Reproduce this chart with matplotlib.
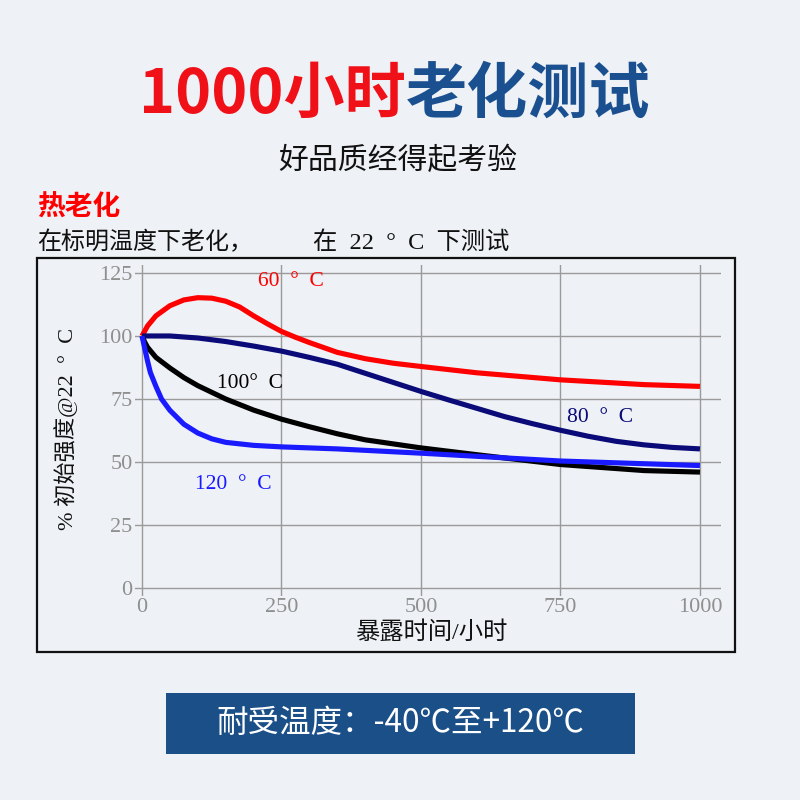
import matplotlib
matplotlib.use("Agg")
import matplotlib.pyplot as plt
from matplotlib.patches import Rectangle

# exposure hours vs % of initial strength
hours_60 = [0, 10, 25, 50, 75, 100, 125, 150, 175, 200, 225, 250, 275, 300, 350, 400, 450, 500, 600, 750, 900, 1000]
strength_60 = [100, 104, 108, 112, 114.3, 115.2, 115, 113.8, 111.5, 108, 104.8, 101.8, 99.5, 97.4, 93.5, 91, 89.2, 87.9, 85.4, 82.6, 80.7, 80]

hours_80 = [0, 50, 100, 150, 200, 250, 300, 350, 400, 450, 500, 550, 600, 650, 700, 750, 800, 850, 900, 950, 1000]
strength_80 = [100, 100, 99.2, 97.8, 96, 94, 91.5, 88.8, 85.2, 81.6, 78, 74.6, 71.3, 68, 65.2, 62.6, 60.2, 58.2, 56.8, 55.8, 55.2]

hours_100 = [0, 5, 10, 25, 50, 75, 100, 150, 200, 250, 300, 350, 400, 500, 600, 750, 900, 1000]
strength_100 = [100, 97.5, 95.5, 91.5, 87.3, 83.5, 80.3, 75, 70.6, 67, 64, 61.2, 58.8, 55.6, 52.9, 49, 46.6, 46]

hours_120 = [0, 5, 10, 15, 25, 35, 50, 75, 100, 125, 150, 200, 250, 350, 500, 750, 1000]
strength_120 = [100, 95, 90, 85.5, 80, 75, 70.5, 65, 61.5, 59.2, 57.8, 56.6, 56, 55.2, 53.5, 50.4, 48.6]

series_labels = ["60  °  C", "80  °  C", "100°  C", "120  °  C"]
label_pos = [(267, 121.5), (821, 67.5), (194, 81), (163, 41)]
series_colors = ["#ff0000", "#0a0a78", "#000000", "#1a1aff"]

xticks = [0, 250, 500, 750, 1000]
yticks = [0, 25, 50, 75, 100, 125]

BG = "#eef1f5"
CJK = "Noto Sans CJK SC"
SERIF = ["Liberation Serif", CJK]

plt.rcParams["font.family"] = [CJK, "DejaVu Sans"]

fig = plt.figure(figsize=(8, 8), dpi=100, facecolor=BG)


def px(x, y):
    # pixel coords of the 800x800 image -> figure fraction
    return x / 800, 1 - y / 800


# title: red part + blue part
fig.text(*px(406, 95), "1000小时", color="#f01018", fontsize=44, fontweight="bold",
         ha="right", va="center")
fig.text(*px(406, 95), "老化测试", color="#1b5090", fontsize=44, fontweight="bold",
         ha="left", va="center")
fig.text(*px(398, 160), "好品质经得起考验", color="#111111", fontsize=21.5,
         ha="center", va="center")

fig.text(*px(37, 208), "热老化", color="#ff0000", fontsize=20, fontweight="bold",
         ha="left", va="center")
fig.text(*px(37, 243), "在标明温度下老化，", color="#111111", fontsize=17.3,
         family=SERIF, ha="left", va="center")
fig.text(*px(313, 243), "在  22  °  C  下测试", color="#111111", fontsize=17.5,
         family=SERIF, ha="left", va="center")

# frame round the chart
fig.patches.append(Rectangle(px(37, 652), 698 / 800, 394 / 800, transform=fig.transFigure,
                             fill=False, edgecolor="#111111", linewidth=1.6))

# chart area: x 0->142px, 1000->700px ; y 0->588px, 125->273px
ax = fig.add_axes([135.3 / 800, 1 - 595.6 / 800, 585.3 / 800, 330.2 / 800])
ax.set_facecolor("none")
ax.set_xlim(-12, 1037)
ax.set_ylim(-3, 128)

for xs, ys, c in zip([hours_60, hours_80, hours_100, hours_120],
                     [strength_60, strength_80, strength_100, strength_120],
                     series_colors):
    ax.plot(xs, ys, color=c, linewidth=3.7, solid_capstyle="butt",
            solid_joinstyle="round", zorder=3)

for lab, (lx, ly), c in zip(series_labels, label_pos, series_colors):
    ax.text(lx, ly, lab, color=c, fontsize=15.5, family=SERIF, ha="center", va="center")

ax.set_xticks(xticks)
ax.set_yticks(yticks)
ax.grid(True, color="#9a9a9a", linewidth=1.0)
ax.tick_params(length=0, colors="#8f8f8f", labelsize=16, pad=2)
for lab in ax.get_xticklabels() + ax.get_yticklabels():
    lab.set_family(SERIF)
for s in ax.spines.values():
    s.set_visible(False)

fig.text(*px(431, 633), "暴露时间/小时", color="#111111", fontsize=17.5,
         family=SERIF, ha="center", va="center")
fig.text(*px(66, 429), "% 初始强度@22  °  C", color="#111111", fontsize=16,
         family=SERIF, rotation=90, ha="center", va="center")

# bottom banner
fig.patches.append(Rectangle(px(166, 754), 469 / 800, 61 / 800, transform=fig.transFigure,
                             facecolor="#1b4f88", edgecolor="none"))
fig.text(*px(400, 723), "耐受温度：-40℃至+120℃", color="white", fontsize=22.7,
         ha="center", va="center")

fig.savefig("out.png", dpi=100, facecolor=BG)
